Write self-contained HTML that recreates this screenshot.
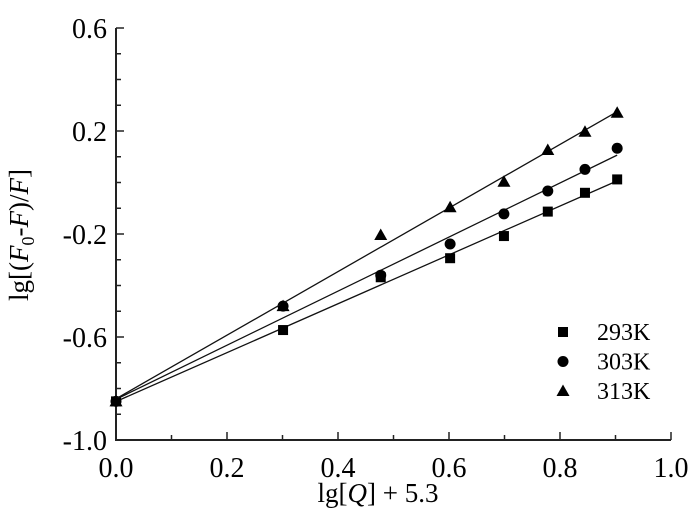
<!DOCTYPE html>
<html><head><meta charset="utf-8"><style>
html,body{margin:0;padding:0;background:#fff;}
svg{display:block;font-family:"Liberation Serif","Times New Roman",serif;}
</style></head><body>
<svg id="chart" width="700" height="517" viewBox="0 0 700 517">
<g id="axes"></g>
<g id="series"></g>
<text x="28" y="235" transform="rotate(-90 28 235)" text-anchor="middle" font-size="27">lg[(<tspan font-style="italic">F</tspan><tspan font-size="18" dy="6">0</tspan><tspan dy="-6">-</tspan><tspan font-style="italic">F</tspan>)/<tspan font-style="italic">F</tspan>]</text>
<text x="378" y="502" text-anchor="middle" font-size="27">lg[<tspan font-style="italic">Q</tspan>] + 5.3</text>
<g id="legend"></g>
</svg>
<script>
const xs = [0, 0.301, 0.477, 0.602, 0.699, 0.778, 0.845, 0.903];
const y293 = [-0.85, -0.573, -0.368, -0.294, -0.208, -0.113, -0.040, 0.012];
const y303 = [-0.85, -0.480, -0.360, -0.239, -0.122, -0.033, 0.051, 0.133];
const y313 = [-0.85, -0.480, -0.204, -0.096, 0.003, 0.126, 0.197, 0.271];
const seriesNames = ["293K", "303K", "313K"];
const xTicks = [0, 0.2, 0.4, 0.6, 0.8, 1.0];
const xTickLabels = ["0.0", "0.2", "0.4", "0.6", "0.8", "1.0"];
const yTicks = [-1.0, -0.6, -0.2, 0.2, 0.6];
const yTickLabels = ["-1.0", "-0.6", "-0.2", "0.2", "0.6"];

const NS = "http://www.w3.org/2000/svg";
const X0 = 116, X1 = 671, Y0 = 440, Y1 = 28;
const xMin = 0, xMax = 1, yMin = -1, yMax = 0.6;
function sx(v){ return X0 + (v - xMin) / (xMax - xMin) * (X1 - X0); }
function sy(v){ return Y0 - (v - yMin) / (yMax - yMin) * (Y0 - Y1); }
function mk(tag, attrs, parent){ const e = document.createElementNS(NS, tag); for (const k in attrs) e.setAttribute(k, attrs[k]); parent.appendChild(e); return e; }

const axes = document.getElementById('axes');
let el = mk('line', {x1: X0, y1: Y0, x2: X1, y2: Y0, stroke: '#222', 'stroke-width': 2}, axes);


el = mk('line', {x1: X0, y1: Y0 + 1, x2: X0, y2: Y1, stroke: '#222', 'stroke-width': 2}, axes);


for (let i = 0; i <= 10; i++) {
  const v = i / 10, x = sx(v), major = i % 2 === 0;
  el = mk('line', {x1: x, y1: Y0, x2: x, y2: Y0 - (major ? 8 : 5), stroke: '#222', 'stroke-width': 1.5}, axes);
  
  
}
xTicks.forEach((v, i) => {
  const t = mk('text', {x: sx(v), y: 477, 'text-anchor': 'middle', 'font-size': 28}, axes);
  t.textContent = xTickLabels[i];
  
  
});
for (let i = 0; i <= 16; i++) {
  const v = -1 + i * 0.1, y = sy(v), major = i % 4 === 0;
  el = mk('line', {x1: X0, y1: y, x2: X0 + (major ? 8 : 5), y2: y, stroke: '#222', 'stroke-width': 1.5}, axes);
  
  
}
yTicks.forEach((v, i) => {
  const t = mk('text', {x: 107, y: sy(v) + 10, 'text-anchor': 'end', 'font-size': 28}, axes);
  t.textContent = yTickLabels[i];
  
  
});

function marker(shape, cx, cy, parent){
  let m;
  if (shape === 0) m = mk('rect', {x: cx - 5, y: cy - 5, width: 10, height: 10, fill: '#000'}, parent);
  else if (shape === 1) m = mk('circle', {cx: cx, cy: cy, r: 5.5, fill: '#000'}, parent);
  else m = mk('polygon', {points: `${cx},${cy-6.5} ${cx+6.5},${cy+5} ${cx-6.5},${cy+5}`, fill: '#000'}, parent);
  return m;
}
const ser = document.getElementById('series');
[y293, y303, y313].forEach((ys, s) => {
  const g = mk('g', {}, ser);
  
  
  const n = xs.length;
  let mx = 0, my = 0; for (let i = 0; i < n; i++){ mx += xs[i]; my += ys[i]; } mx /= n; my /= n;
  let num = 0, den = 0; for (let i = 0; i < n; i++){ num += (xs[i]-mx)*(ys[i]-my); den += (xs[i]-mx)**2; }
  const b = num / den, a = my - b * mx;
  const xa = xs[0], xb = xs[n-1];
  const ln = mk('line', {x1: sx(xa), y1: sy(a + b*xa), x2: sx(xb), y2: sy(a + b*xb), stroke: '#111', 'stroke-width': 1.3}, g);
  
  
  xs.forEach((x, i) => {
    const m = marker(s, sx(x), sy(ys[i]), g);
    
    
  });
});

const leg = document.getElementById('legend');
seriesNames.forEach((nm, s) => {
  const cy = 332 + s * 29.5;
  const m = marker(s, 563, cy, leg);
  
  
  const t = mk('text', {x: 597, y: cy + 8, 'font-size': 24}, leg);
  t.textContent = nm;
  
  
});
</script>
</body></html>
